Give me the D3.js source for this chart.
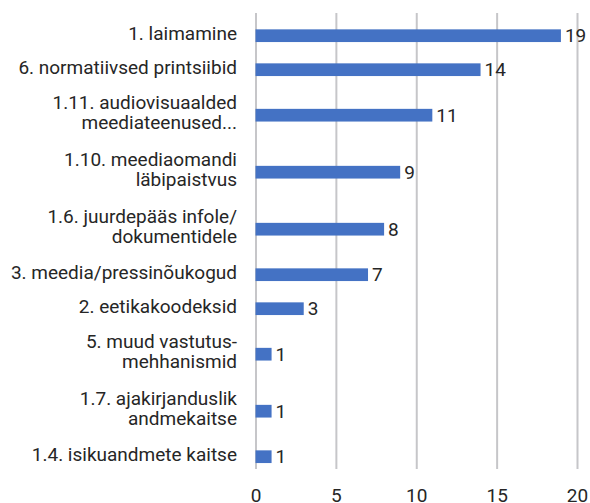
<!DOCTYPE html>
<html>
<head>
<meta charset="utf-8">
<script src="https://cdn.jsdelivr.net/npm/d3@7"></script>
<style>
  html, body { margin: 0; padding: 0; background: #fff; }
  svg { display: block; }
  text { font-family: Roboto, "Noto Sans", sans-serif; fill: #262626; }
</style>
</head>
<body>
<svg id="chart" width="590" height="503"></svg>
<script>
const categories = [
  "1. laimamine",
  "6. normatiivsed printsiibid",
  "1.11. audiovisuaalded\nmeediateenused...",
  "1.10. meediaomandi\nläbipaistvus",
  "1.6. juurdepääs infole/\ndokumentidele",
  "3. meedia/pressinõukogud",
  "2. eetikakoodeksid",
  "5. muud vastutus-\nmehhanismid",
  "1.7. ajakirjanduslik\nandmekaitse",
  "1.4. isikuandmete kaitse"
];
const values = [19, 14, 11, 9, 8, 7, 3, 1, 1, 1];
const xTicks = [0, 5, 10, 15, 20];

const svg = d3.select("#chart");
const plotLeft = 255.5, plotRight = 577, gridTop = 13, gridBottom = 469;
const fontSize = 19;
const barH = 12.7;

const x = d3.scaleLinear().domain([0, 20]).range([plotLeft, plotRight]);

// slot heights depend on how many lines a label wraps onto
const lines = categories.map(c => c.split("\n"));
const slot = lines.map(l => l.length === 1 ? 34 : 57);
const starts = [];
let acc = 0;
slot.forEach(s => { starts.push(acc); acc += s; });
const centers = starts.map((s, i) => s + slot[i] / 2);
const y = d3.scaleLinear().domain([0, acc]).range([18.7, 18.7 + acc]);

// gridlines
const grid = svg.append("g").attr("transform", `translate(0,${gridBottom})`)
  .call(d3.axisBottom(x).tickValues(xTicks).tickSize(-(gridBottom - gridTop)).tickFormat(""));
grid.select(".domain").remove();
grid.selectAll(".tick line").attr("stroke", "#c6c6c9").attr("stroke-width", 2);

// x axis labels
const xa = svg.append("g").attr("transform", `translate(0,${488})`)
  .call(d3.axisBottom(x).tickValues(xTicks).tickSize(0).tickPadding(0));
xa.select(".domain").remove();
xa.selectAll(".tick text").attr("font-size", fontSize).attr("dy", "0.71em")
  .style("font-family", "Roboto, 'Noto Sans', sans-serif").attr("fill", "#262626");

// bars
svg.append("g").selectAll("rect").data(values).join("rect")
  .attr("x", x(0))
  .attr("y", (d, i) => y(centers[i]) - barH / 2)
  .attr("width", d => x(d) - x(0))
  .attr("height", barH)
  .attr("fill", "#4472c4");

// value labels
svg.append("g").selectAll("text").data(values).join("text")
  .attr("x", d => x(d) + 4)
  .attr("y", (d, i) => y(centers[i]))
  .attr("dy", "0.35em")
  .attr("font-size", fontSize)
  .text(d => d);

// category labels
const lab = svg.append("g").selectAll("text").data(lines).join("text")
  .attr("text-anchor", "end")
  .attr("font-size", fontSize)
  .attr("x", 237)
  .attr("y", (d, i) => y(centers[i]));
lab.each(function(l) {
  const t = d3.select(this);
  const n = l.length;
  l.forEach((s, k) => {
    t.append("tspan").attr("x", 237)
      .attr("dy", k === 0 ? `${0.22 - (n - 1) * 0.525}em` : "1.05em")
      .text(s);
  });
});
</script>
</body>
</html>
